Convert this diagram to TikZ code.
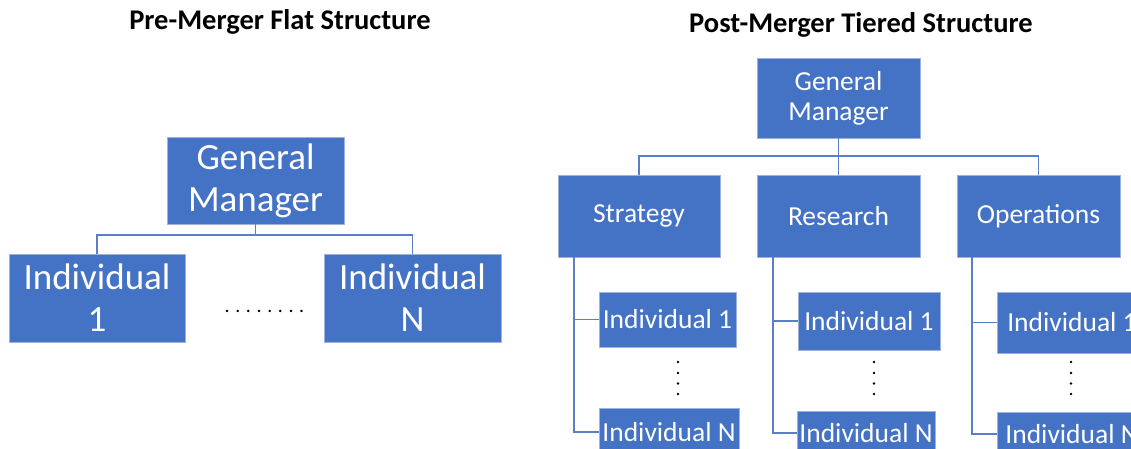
\documentclass[tikz,border=0pt]{standalone}
\usepackage{fontspec}
\setmainfont{Carlito}
\usetikzlibrary{calc}
\definecolor{obox}{HTML}{4472C4}
\definecolor{oedge}{HTML}{9DB3DE}
\definecolor{oline}{HTML}{5B7FC7}
\begin{document}
\begin{tikzpicture}[x=1pt,y=-1pt,
  box/.style={rectangle, fill=obox, draw=oedge, line width=0.8pt, text=white, align=center, inner sep=0pt},
  bigtxt/.style={font=\fontsize{37}{42}\selectfont},
  smtxt/.style={font=\fontsize{27.5}{30}\selectfont},
  ttl/.style={font=\bfseries\fontsize{28.5}{32}\selectfont},
  link/.style={draw=oline, line width=1.4pt},
  dotstxt/.style={font=\fontsize{20}{10.7}\selectfont, inner sep=0pt},
  vdot/.style={fill=black, draw=none}
]
\useasboundingbox (0,0) rectangle (1131,448);
% titles
\node[ttl] (t1) at (280,22) {Pre-Merger Flat Structure};
\node[ttl] (t2) at (861,25) {Post-Merger Tiered Structure};

% left flat structure
\node[box,bigtxt,minimum width=177pt,minimum height=87pt] (lgm) at (255.5,180.5) {General\\Manager};
\node[box,bigtxt,minimum width=176pt,minimum height=88pt] (li1) at (97,298) {Individual\\1};
\node[box,bigtxt,minimum width=177pt,minimum height=88pt] (lin) at (412.5,298) {Individual\\N};
\coordinate (lbus) at (0,235);
\draw[link] (lgm.south) -- (lgm.south |- lbus);
\draw[link] (li1.north) |- (lin.north |- lbus) -- (lin.north);
\node[dotstxt] (ldots) at (264.5,311) {.\kern5.6pt.\kern5.6pt.\kern5.6pt.\kern5.6pt.\kern5.6pt.\kern5.6pt.\kern5.6pt.};

% right tiered structure
\node[box,smtxt,minimum width=163pt,minimum height=80pt] (rgm) at (838.5,98) {General\\Manager};
\node[box,smtxt,minimum width=162pt,minimum height=82pt] (str) at (639,216) {Strategy};
\node[box,smtxt,minimum width=163pt,minimum height=82pt] (res) at (838.5,216) {Research};
\node[box,smtxt,minimum width=163pt,minimum height=82pt] (ops) at (1038.5,216) {Operations};
\coordinate (rbus) at (0,156);
\draw[link] (rgm.south) -- (rgm.south |- rbus);
\draw[link] (str.north) |- (ops.north |- rbus) -- (ops.north);
\draw[link] (res.north |- rbus) -- (res.north);

% strategy column
\node[box,smtxt,minimum width=137pt,minimum height=55pt] (s1) at (667.5,319.5) {Individual 1};
\node[box,smtxt,minimum width=140pt,minimum height=48pt] (sn) at (669,432) {Individual N};
\coordinate (sc) at (574,0);
\draw[link] (str.south -| sc) |- (sn.west);
\draw[link] (s1.west) -- (s1.west -| sc);
\foreach \yy in {362,373,383.5,394} \fill[vdot] (678,\yy) circle (1.3pt);

% research column
\node[box,smtxt,minimum width=142pt,minimum height=58pt] (r1) at (869,321) {Individual 1};
\node[box,smtxt,minimum width=138pt,minimum height=44pt] (rn) at (866,433) {Individual N};
\coordinate (rc) at (773,0);
\draw[link] (res.south -| rc) |- (rn.west);
\draw[link] (r1.west) -- (r1.west -| rc);
\foreach \yy in {362,373,383.5,394} \fill[vdot] (874,\yy) circle (1.3pt);

% operations column
\node[box,smtxt,minimum width=150pt,minimum height=61pt] (o1) at (1072,322.5) {Individual 1};
\node[box,smtxt,minimum width=150pt,minimum height=44pt] (on) at (1072,434) {Individual N};
\coordinate (oc) at (972,0);
\draw[link] (ops.south -| oc) |- (on.west);
\draw[link] (o1.west) -- (o1.west -| oc);
\foreach \yy in {362,373,383.5,394} \fill[vdot] (1071,\yy) circle (1.3pt);
\end{tikzpicture}
\end{document}
